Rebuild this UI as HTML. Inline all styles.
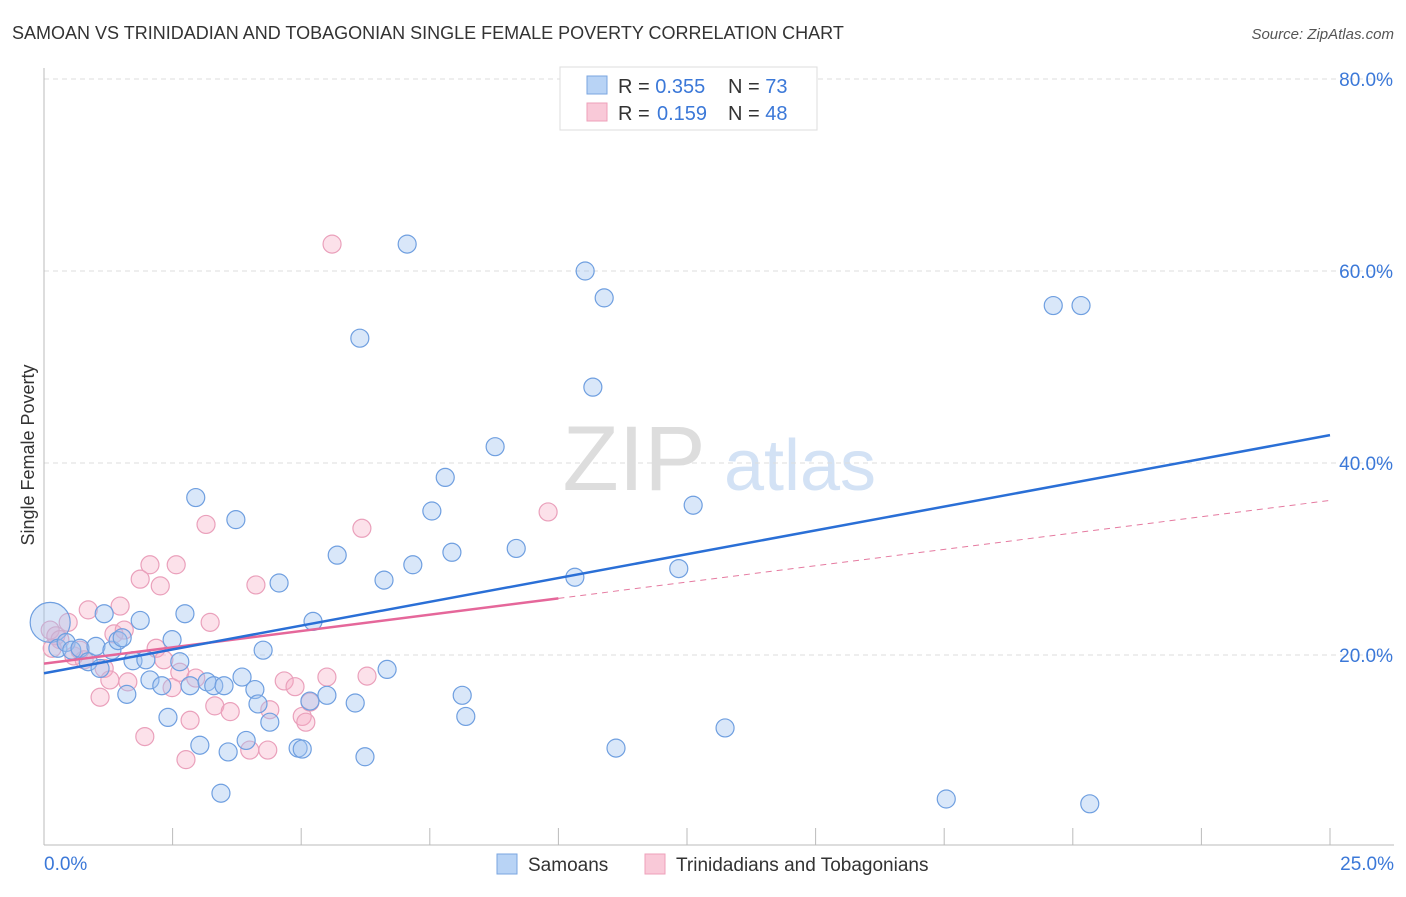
<!DOCTYPE html>
<html><head><meta charset="utf-8"><style>
body{margin:0;background:#fff;font-family:"Liberation Sans",sans-serif}
svg text{font-family:"Liberation Sans",sans-serif}
</style></head><body>
<svg id="chart" width="1406" height="892" xmlns="http://www.w3.org/2000/svg">
<text x="12" y="39" font-size="18" fill="#333">SAMOAN VS TRINIDADIAN AND TOBAGONIAN SINGLE FEMALE POVERTY CORRELATION CHART</text>
<text x="1394" y="39" font-size="15" fill="#555" text-anchor="end" font-style="italic">Source: ZipAtlas.com</text>
<g>
<text x="634" y="490" font-size="92" fill="#ddd" text-anchor="middle" font-family="Liberation Serif">ZIP</text>
<text x="800" y="490" font-size="72" fill="#d3e2f5" text-anchor="middle">atlas</text>
</g>
<g id="grid"></g>
<g id="axes"></g>
<g id="marks"></g>
<text transform="translate(34,455) rotate(-90)" font-size="18" fill="#333" text-anchor="middle">Single Female Poverty</text>
<g>
<rect x="560" y="67" width="257" height="63" fill="#fff" stroke="#ddd"/>
<rect x="587" y="76" width="20" height="18" fill="#b8d3f5" stroke="#7aa6e0"/>
<rect x="587" y="103" width="20" height="18" fill="#f9c9d8" stroke="#eea0ba"/>
<text x="618" y="93" font-size="20" fill="#333">R = <tspan fill="#3b78d8">0.355</tspan><tspan x="728">N = </tspan><tspan fill="#3b78d8">73</tspan></text>
<text x="618" y="120" font-size="20" fill="#333">R = <tspan x="657" fill="#3b78d8">0.159</tspan><tspan x="728">N = </tspan><tspan fill="#3b78d8">48</tspan></text>
</g>
<g>
<rect x="497" y="854" width="20" height="20" fill="#b8d3f5" stroke="#7aa6e0"/>
<text x="528" y="871" font-size="19" fill="#333">Samoans</text>
<rect x="645" y="854" width="20" height="20" fill="#f9c9d8" stroke="#eea0ba"/>
<text x="676" y="871" font-size="19" fill="#333">Trinidadians and Tobagonians</text>
</g>
</svg>
<script>
const blueX=[0.12,0.27,0.43,0.54,0.70,0.86,1.01,1.09,1.17,1.32,1.44,1.52,1.61,1.73,1.87,1.98,2.06,2.29,2.41,2.49,2.64,2.74,2.84,2.95,3.03,3.17,3.30,3.44,3.50,3.58,3.73,3.85,3.93,4.10,4.16,4.26,4.39,4.57,4.94,5.02,5.17,5.23,5.50,5.70,6.05,6.14,6.24,6.61,6.67,7.06,7.17,7.54,7.80,7.93,8.13,8.20,8.77,9.18,10.32,10.52,10.67,10.89,11.12,12.34,12.62,13.24,17.54,19.62,20.16,20.33];
const blueY=[23.4,20.7,21.3,20.5,20.7,19.3,20.9,18.6,24.3,20.5,21.5,21.8,15.9,19.4,23.6,19.5,17.4,16.8,13.5,21.6,19.3,24.3,16.8,36.4,10.6,17.2,16.8,5.6,16.8,9.9,34.1,17.7,11.1,16.4,14.9,20.5,13.0,27.5,10.3,10.2,15.2,23.5,15.8,30.4,15.0,53.0,9.4,27.8,18.5,62.8,29.4,35.0,38.5,30.7,15.8,13.6,41.7,31.1,28.1,60.0,47.9,57.2,10.3,29.0,35.6,12.4,5.0,56.4,56.4,4.5];
const pinkX=[0.12,0.23,0.31,0.47,0.58,0.70,0.86,1.09,1.17,1.28,1.36,1.48,1.56,1.63,1.87,1.96,2.06,2.18,2.26,2.33,2.49,2.57,2.64,2.76,2.84,2.95,3.15,3.23,3.32,3.62,4.00,4.12,4.35,4.39,4.67,4.88,5.02,5.09,5.17,5.50,5.60,6.18,6.28,9.80,0.16,0.78];
const pinkY=[22.6,22.0,21.6,23.4,19.9,20.5,24.7,15.6,18.6,17.4,22.2,25.1,22.6,17.2,27.9,11.5,29.4,20.7,27.2,19.5,16.6,29.4,18.2,9.1,13.2,17.6,33.6,23.4,14.7,14.1,10.1,27.3,10.1,14.3,17.3,16.7,13.6,13.0,15.1,17.7,62.8,33.2,17.8,34.9,20.7,19.5];
const yTicks=[20,40,60,80];
const yTickLabels=["20.0%","40.0%","60.0%","80.0%"];
const blueTrend=[18.1,42.9];
const pinkTrend=[19.1,36.1];
const pinkSolidEnd=10;
const NS="http://www.w3.org/2000/svg";
const X0=44,X1=1330,Y0=847,YS=9.6;
const sx=v=>X0+(X1-X0)*v/25, sy=v=>Y0-v*YS;
function mk(tag,attrs,parent){const e=document.createElementNS(NS,tag);for(const k in attrs)e.setAttribute(k,attrs[k]);document.getElementById(parent).appendChild(e);return e;}
yTicks.forEach((t,i)=>{
 const g=mk('line',{x1:X0,x2:1394,y1:sy(t),y2:sy(t),stroke:'#ddd','stroke-dasharray':'5,4'},'grid');
 
 
 const l=mk('text',{x:1393,y:sy(t)+7,'font-size':19,fill:'#3b78d8','text-anchor':'end'},'axes');
 l.textContent=yTickLabels[i];
 
 
});
const ax=mk('line',{x1:X0,x2:X0,y1:68,y2:845,stroke:'#bbb'},'axes');


const bx=mk('line',{x1:X0,x2:1394,y1:845,y2:845,stroke:'#bbb'},'axes');


for(let i=0;i<=10;i++){const t=mk('line',{x1:sx(i*2.5),x2:sx(i*2.5),y1:828,y2:845,stroke:'#bbb'},'axes');
 
 }
const xl0=mk('text',{x:44,y:870,'font-size':19,fill:'#3b78d8'},'axes');xl0.textContent='0.0%';


const xl1=mk('text',{x:1394,y:870,'font-size':19,fill:'#3b78d8','text-anchor':'end'},'axes');xl1.textContent='25.0%';


pinkX.forEach((x,i)=>{const c=mk('circle',{cx:sx(x),cy:sy(pinkY[i]),r:9,fill:'rgba(245,170,195,0.35)',stroke:'#eaa0bb','stroke-width':1.2},'marks');
 
 });
blueX.forEach((x,i)=>{const c=mk('circle',{cx:sx(x),cy:sy(blueY[i]),r:i===0?20:9,fill:'rgba(160,195,240,0.4)',stroke:'#6f9fe0','stroke-width':1.2},'marks');
 
 });
const pm=pinkTrend[0]+(pinkTrend[1]-pinkTrend[0])*pinkSolidEnd/25;
const pd=mk('line',{x1:sx(pinkSolidEnd),y1:sy(pm),x2:sx(25),y2:sy(pinkTrend[1]),stroke:'#e57aa0','stroke-width':1,'stroke-dasharray':'6,5'},'marks');


const ps=mk('line',{x1:sx(0),y1:sy(pinkTrend[0]),x2:sx(pinkSolidEnd),y2:sy(pm),stroke:'#e5679a','stroke-width':2.5},'marks');


const bl=mk('line',{x1:sx(0),y1:sy(blueTrend[0]),x2:sx(25),y2:sy(blueTrend[1]),stroke:'#2a6fd6','stroke-width':2.5},'marks');


</script>
</body></html>
